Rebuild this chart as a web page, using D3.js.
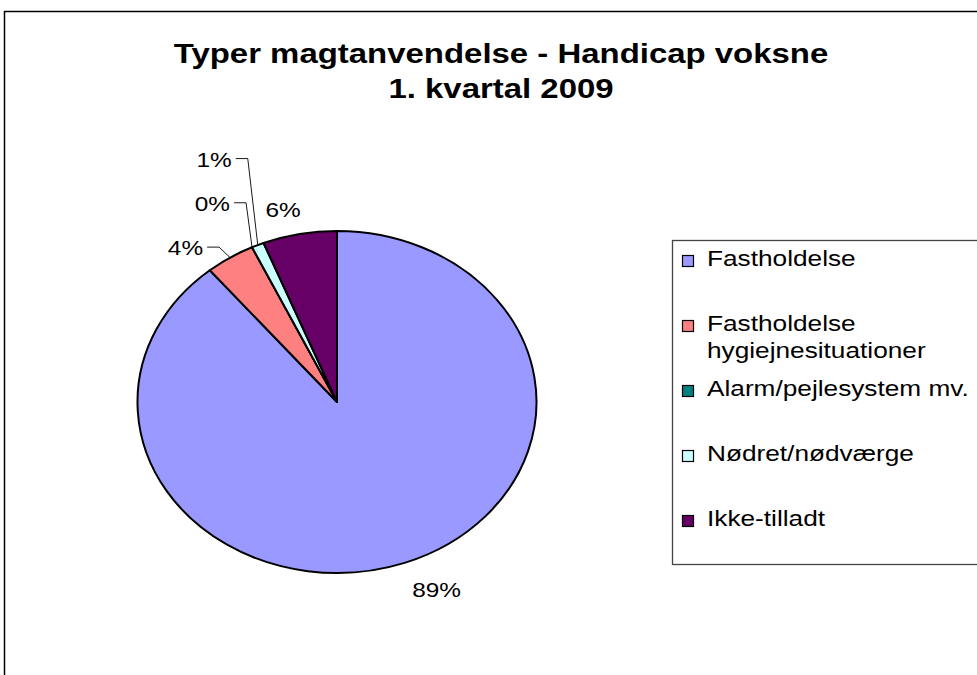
<!DOCTYPE html>
<html>
<head>
<meta charset="utf-8">
<script src="https://cdn.jsdelivr.net/npm/d3@7"></script>
<style>
  html, body { margin: 0; padding: 0; background: #fff; }
  svg { display: block; }
  text { font-family: "Liberation Sans", Arial, sans-serif; }
</style>
</head>
<body>
<svg id="chart" width="977" height="675"></svg>
<script>
// ---- data ----
const titleLines = ["Typer magtanvendelse - Handicap voksne", "1. kvartal 2009"];
const categories = ["Fastholdelse", "Fastholdelse hygiejnesituationer", "Alarm/pejlesystem mv.", "Nødret/nødværge", "Ikke-tilladt"];
const legendLines = [["Fastholdelse"], ["Fastholdelse", "hygiejnesituationer"], ["Alarm/pejlesystem mv."], ["Nødret/nødværge"], ["Ikke-tilladt"]];
const values = [89, 4, 0, 1, 6];
const colors = ["#9999FF", "#FF8080", "#008080", "#CCFFFF", "#660066"];

// ---- layout / style config ----
const W = 977, H = 675;
const sx = 1.22;              // horizontal stretch of the embedded picture (text)
const cx = 337, cy = 402, rx = 199.5, ry = 171;
// label placement relative to the slice's mid point on the rim: [dx, dy, anchor, leader]
const labelPlace = [
  [32, 34, "middle", false],
  [-27, -2.5, "end", true],
  [-22, -36.5, "end", true],
  [-26, -78.5, "end", true],
  [-16.5, -17, "middle", false]
];

const svg = d3.select("#chart");

// chart frame (extends beyond the picture)
svg.append("rect").attr("x", 4.5).attr("y", 11.5).attr("width", 1100).attr("height", 800)
  .attr("fill", "#fff").attr("stroke", "#000").attr("stroke-width", 1.5);

function stretchedText(g, x, y, str, size, weight, anchor) {
  return g.append("text")
    .attr("transform", `translate(${x},${y}) scale(${sx},1)`)
    .attr("text-anchor", anchor || "start")
    .attr("font-size", size)
    .attr("font-weight", weight || "normal")
    .attr("fill", "#000")
    .text(str);
}

// title
const titleG = svg.append("g");
titleLines.forEach((t, i) => stretchedText(titleG, 501, 63 + i * 34.5, t, 27, "bold", "middle"));

// pie
const pie = d3.pie().sort(null).value(d => d)
  .startAngle(0).endAngle(2 * Math.PI);
const arcs = pie(values);
const arc = d3.arc().innerRadius(0).outerRadius(ry);

const pieG = svg.append("g").attr("transform", `translate(${cx},${cy}) scale(${rx / ry},1)`);
pieG.selectAll("path").data(arcs).join("path")
  .attr("d", arc)
  .attr("fill", (d, i) => colors[i])
  .attr("stroke", "#000")
  .attr("stroke-width", 2)
  .attr("stroke-linejoin", "round")
  .attr("vector-effect", "non-scaling-stroke");

// labels
const fmt = v => Math.round(v) + "%";
const total = d3.sum(values);
const labelG = svg.append("g");
arcs.forEach((a, i) => {
  const mid = (a.startAngle + a.endAngle) / 2;
  const px = cx + rx * Math.sin(mid);
  const py = cy - ry * Math.cos(mid);
  const [dx, dy, anchor, leader] = labelPlace[i];
  const tx = px + dx, ty = py + dy;
  stretchedText(labelG, tx, ty, fmt(values[i] / total * 100), 20, "normal", anchor);
  if (leader) {
    const ly = ty - 8;
    labelG.append("polyline")
      .attr("points", `${tx + 4},${ly} ${tx + 16},${ly} ${px},${py}`)
      .attr("fill", "none").attr("stroke", "#000").attr("stroke-width", 0.9);
  }
});

// legend
const legG = svg.append("g");
legG.append("rect").attr("x", 672.5).attr("y", 240.5).attr("width", 400).attr("height", 324)
  .attr("fill", "#fff").attr("stroke", "#444").attr("stroke-width", 1.3);
categories.forEach((c, i) => {
  const by = 266 + i * 65;
  legG.append("rect").attr("x", 682.5).attr("y", by - 10.5).attr("width", 11).attr("height", 11)
    .attr("fill", colors[i]).attr("stroke", "#000").attr("stroke-width", 1.2);
  legendLines[i].forEach((ln, j) => stretchedText(legG, 707, by + j * 26.5, ln, 21.5, "normal", "start"));
});
</script>
</body>
</html>
